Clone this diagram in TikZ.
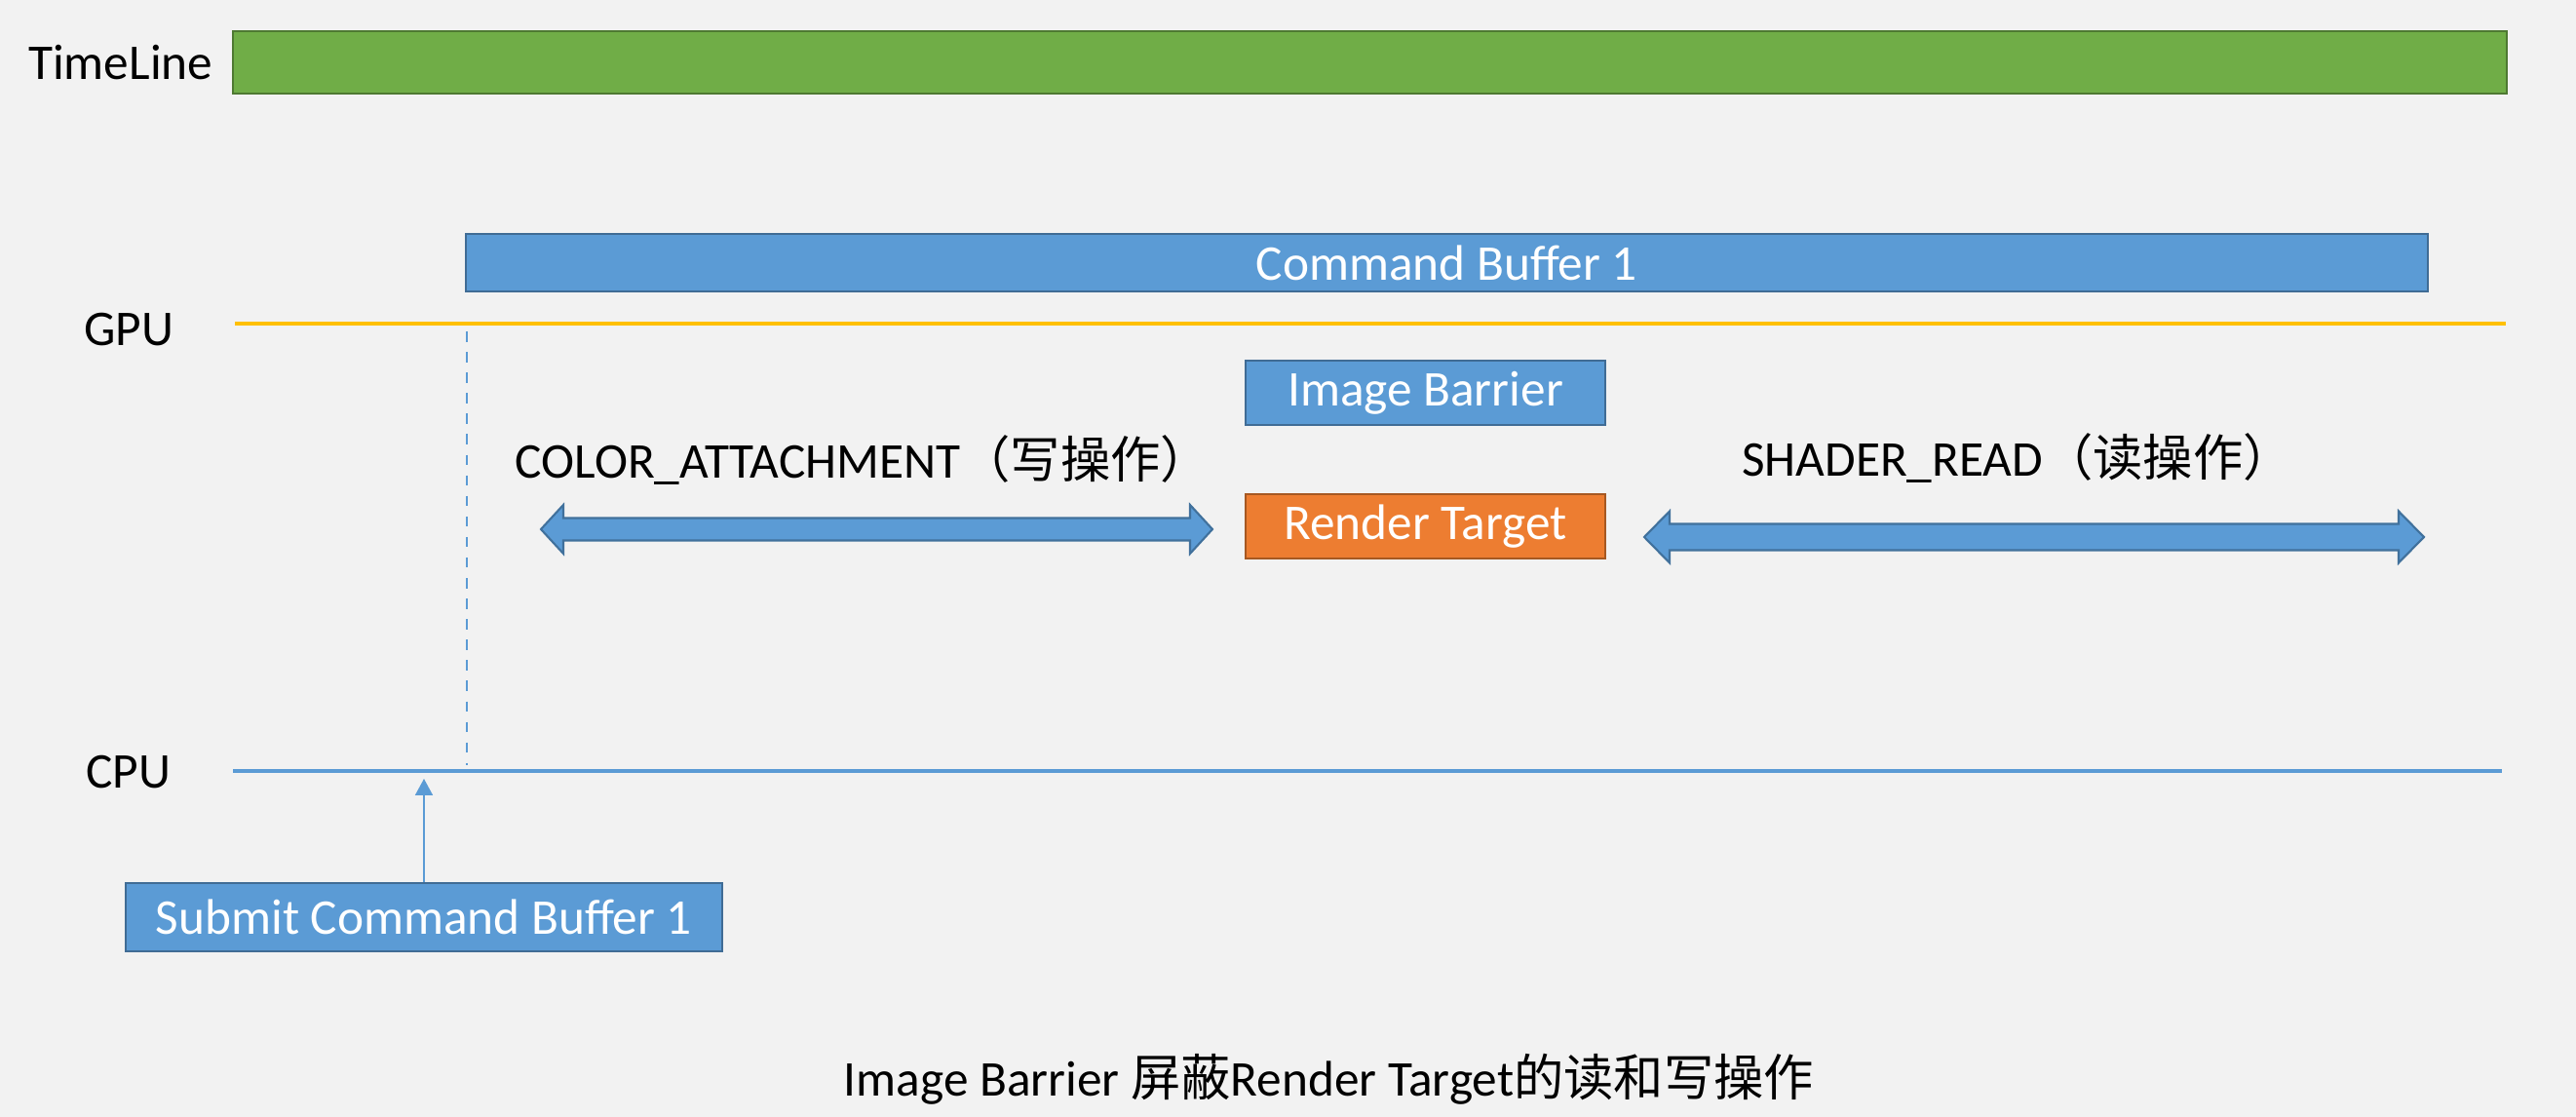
\documentclass[tikz,border=0pt]{standalone}
\usepackage{fontspec}
\setmainfont{Carlito}
\newfontfamily\cjk{Noto Sans CJK SC}
\usepackage{tikz}
\usetikzlibrary{positioning,arrows.meta}

\begin{document}
\begin{tikzpicture}[
    every node/.style={font=\fontsize{14.6}{17.5}\selectfont},
    bar/.style={draw=#1!70!black,fill=#1,line width=0.6pt,inner sep=0,text=white},
    axis/.style={line width=1.15pt},
    oparrow/.style={fill=barblue,draw=arrowedge,line width=0.6pt}
  ]
    \definecolor{bg}{RGB}{242,242,242}
    \definecolor{tlgreen}{RGB}{112,173,71}
    \definecolor{barblue}{RGB}{91,155,213}
    \definecolor{arrowedge}{RGB}{65,113,156}
    \definecolor{rtorange}{RGB}{237,125,49}
    \definecolor{gpuline}{RGB}{255,192,0}
    \fill[bg] (0,0) rectangle (26.43,11.46);
    \useasboundingbox (0,0) rectangle (26.43,11.46);
    % timeline
    \node[bar=tlgreen,minimum width=23.33cm,minimum height=0.64cm] (timeline) at (14.055,10.82) {};
    \node[anchor=east,inner sep=0] (tllabel) at (2.19,10.82) {TimeLine};
    % gpu / cpu axes
    \coordinate (gpustart) at (2.41,8.14);
    \coordinate (gpuend) at (25.71,8.14);
    \coordinate (cpustart) at (2.39,3.55);
    \coordinate (cpuend) at (25.67,3.55);
    \draw[axis,gpuline] (gpustart) -- (gpuend);
    \draw[axis,barblue] (cpustart) -- (cpuend);
    \node (gpulabel) at (1.325,8.08) {GPU};
    \node (cpulabel) at (1.32,3.54) {CPU};
    % command buffer
    \node[bar=barblue,minimum width=20.13cm,minimum height=0.59cm] (cmdbuf) at (14.845,8.765) {Command Buffer 1};
    \coordinate (gputick) at (4.79,8.06);
    \coordinate (cputick) at (4.79,3.61);
    \draw[barblue,dashed,line width=0.4pt] (gputick) -- (cputick);
    % submit
    \node[bar=barblue,minimum width=6.12cm,minimum height=0.70cm] (submit) at (4.35,2.05) {Submit Command Buffer 1};
    \coordinate (cpuhit) at (4.35,3.47);
    \draw[barblue,line width=0.5pt,-{Triangle[width=0.18cm,length=0.17cm]}] (submit) -- (cpuhit);
    % barrier and render target
    \node[bar=barblue,minimum width=3.69cm,minimum height=0.66cm] (barrier) at (14.625,7.43) {Image Barrier};
    \node[bar=rtorange,minimum width=3.69cm,minimum height=0.66cm] (rtarget) at (14.625,6.06) {Render Target};
    % write / read spans
    \node (writelabel) at (8.855,6.74) {COLOR\_ATTACHMENT{\cjk （写操作）}};
    \node (readlabel) at (20.70,6.76) {SHADER\_READ{\cjk （读操作）}};
    \draw[oparrow] (5.55,6.03) -- (5.78,6.28) -- (5.78,6.145) -- (12.21,6.145) -- (12.21,6.28) -- (12.44,6.03)
      -- (12.21,5.78) -- (12.21,5.915) -- (5.78,5.915) -- (5.78,5.78) -- cycle;
    \draw[oparrow] (16.87,5.95) -- (17.13,6.215) -- (17.13,6.085) -- (24.61,6.085) -- (24.61,6.215) -- (24.87,5.95)
      -- (24.61,5.685) -- (24.61,5.815) -- (17.13,5.815) -- (17.13,5.685) -- cycle;
    % caption
    \node (caption) at (13.635,0.39) {Image Barrier {\cjk 屏蔽}Render Target{\cjk 的读和写操作}};
\end{tikzpicture}
\end{document}
